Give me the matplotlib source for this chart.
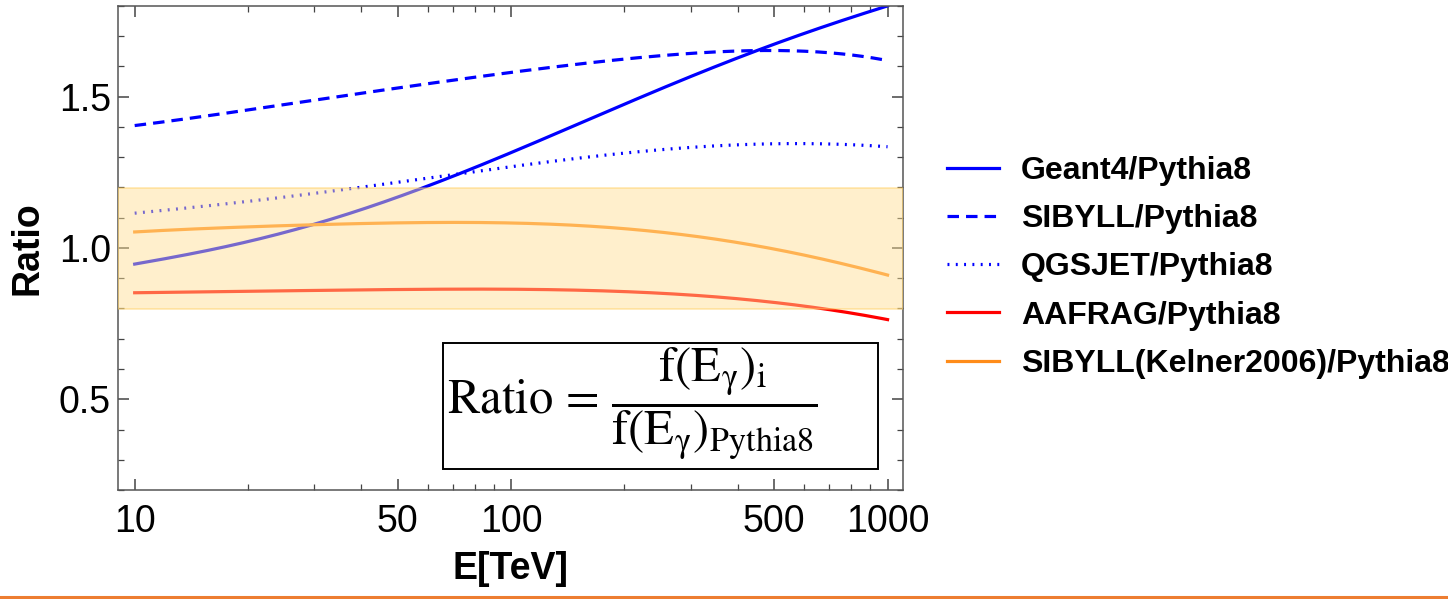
import numpy as np
import matplotlib
matplotlib.use("Agg")
import matplotlib.pyplot as plt
from matplotlib.lines import Line2D
from matplotlib.patches import Rectangle
from matplotlib.ticker import FixedLocator, NullFormatter, FixedFormatter

plt.rcParams['mathtext.fontset'] = 'stix'

# ---- data ----
energy = [10, 20, 30, 50, 70, 100, 200, 300, 500, 700, 1000]
geant4 = [0.947, 1.02, 1.08, 1.17, 1.235, 1.315, 1.475, 1.57, 1.67, 1.74, 1.80]
sibyll = [1.405, 1.455, 1.49, 1.53, 1.555, 1.578, 1.625, 1.645, 1.652, 1.645, 1.62]
qgsjet = [1.115, 1.155, 1.18, 1.215, 1.245, 1.27, 1.31, 1.335, 1.345, 1.343, 1.335]
aafrag = [0.852, 0.857, 0.86, 0.862, 0.864, 0.864, 0.857, 0.843, 0.82, 0.797, 0.763]
kelner = [1.053, 1.07, 1.077, 1.083, 1.084, 1.083, 1.065, 1.04, 0.995, 0.96, 0.91]
labels = ["Geant4/Pythia8", "SIBYLL/Pythia8", "QGSJET/Pythia8",
          "AAFRAG/Pythia8", "SIBYLL(Kelner2006)/Pythia8"]
band_low, band_high = 0.8, 1.2
xticks_major = [10, 50, 100, 500, 1000]
xtick_labels = ["10", "50", "100", "500", "1000"]
yticks_major = [0.5, 1.0, 1.5]
ytick_labels = ["0.5", "1.0", "1.5"]

# smooth curves in log-space through the read points
def smooth(x, y, n=300):
    lx = np.log10(x)
    coef = np.polyfit(lx, y, 5)
    xs = np.logspace(lx[0], lx[-1], n)
    return xs, np.polyval(coef, np.log10(xs))

W, H = 1448, 599
fig = plt.figure(figsize=(W / 100, H / 100), dpi=100)
ax = fig.add_axes([118 / W, 1 - 490 / H, (903 - 118) / W, (490 - 6) / H])

lw = 2.3
blue = '#0000FF'
styles = [
    (geant4, blue, '-'),
    (sibyll, blue, (0, (3.6, 2.2))),
    (qgsjet, blue, (0, (0.6, 2.0))),
    (aafrag, '#FF0000', '-'),
    (kelner, '#FF8C1A', '-'),
]
handles = []
for vals, c, ls in styles:
    xs, ys = smooth(energy, vals)
    ax.plot(xs, ys, color=c, lw=lw, ls=ls, zorder=2)
    handles.append(Line2D([], [], color=c, lw=lw, ls=ls))

ax.axhspan(band_low, band_high, facecolor=(1.0, 0.875, 0.576), alpha=0.47,
           edgecolor=(1.0, 0.80, 0.35), lw=1.2, zorder=3)

ax.set_xscale('log')
ax.set_xlim(9.03, 1099)
ax.set_ylim(0.2, 1.8)

ax.xaxis.set_major_locator(FixedLocator(xticks_major))
ax.xaxis.set_major_formatter(FixedFormatter(xtick_labels))
minor_x = [v for d in (10, 100) for v in np.arange(2, 10) * d if v not in xticks_major]
ax.xaxis.set_minor_locator(FixedLocator(minor_x))
ax.xaxis.set_minor_formatter(NullFormatter())
ax.yaxis.set_major_locator(FixedLocator(yticks_major))
ax.yaxis.set_major_formatter(FixedFormatter(ytick_labels))
ax.yaxis.set_minor_locator(FixedLocator(np.arange(0.2, 1.81, 0.1)))

ax.tick_params(which='both', direction='in', top=True, right=True, color='#444444')
ax.tick_params(which='major', length=8, width=1.1, pad=10)
ax.tick_params(which='minor', length=4.5, width=0.9)
ax.tick_params(axis='y', which='major', pad=5)
for lab in ax.get_xticklabels() + ax.get_yticklabels():
    lab.set_fontfamily('Liberation Sans')
    lab.set_fontsize(27)
for s in ax.spines.values():
    s.set_color('#555555')
    s.set_linewidth(1.1)

ax.set_xlabel('E[TeV]', fontfamily='Liberation Sans', fontweight='bold', fontsize=27, labelpad=8)
ax.set_ylabel('Ratio', fontfamily='Liberation Sans', fontweight='bold', fontsize=27, labelpad=10)

# formula box
ax.add_patch(Rectangle((0.414, 0.0434), 0.968 - 0.414, 0.304 - 0.0434, transform=ax.transAxes,
                       facecolor='white', edgecolor='black', lw=1.4, zorder=5))
ax.text(0.419, 0.178,
        r'$\mathrm{Ratio}\,=\,\dfrac{\mathrm{f}\left(\mathrm{E}_{\mathrm{\gamma}}\right)_{\mathrm{i}}}'
        r'{\mathrm{f}\left(\mathrm{E}_{\mathrm{\gamma}}\right)_{\mathrm{Pythia8}}}$',
        transform=ax.transAxes, fontsize=35, ha='left', va='center', zorder=6)

fig.legend(handles, labels, loc='upper left', bbox_to_anchor=(947 / W, 1 - 156 / H),
           frameon=False, borderpad=0, borderaxespad=0,
           prop=dict(family='Liberation Sans', weight='bold', size=23),
           handlelength=1.63, handletextpad=0.69, labelspacing=0.57)

fig.add_artist(Line2D([0, 1], [1 - 597 / H, 1 - 597 / H], transform=fig.transFigure,
                      color='#ED7D31', lw=2.2))

fig.savefig('out.png', dpi=100)
